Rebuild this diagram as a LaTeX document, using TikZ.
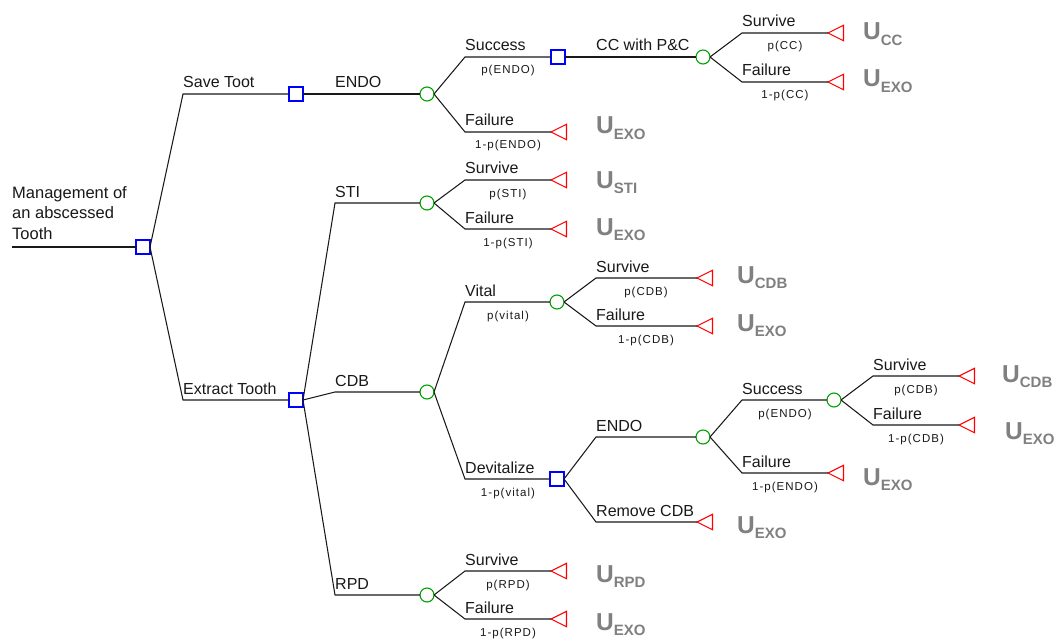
\documentclass[tikz,border=0pt]{standalone}
\usepackage{fontspec}
\setmainfont{Liberation Sans}
\newfontfamily\probfont[LetterSpace=9]{Liberation Sans}
\usetikzlibrary{shapes.geometric}
\definecolor{dnode}{RGB}{0,0,255}
\definecolor{cnode}{RGB}{0,160,0}
\definecolor{tnode}{RGB}{255,0,0}
\definecolor{ugray}{RGB}{128,128,128}
\definecolor{linec}{RGB}{25,25,25}
\tikzset{
  decn/.style={draw=dnode, line width=1.2pt, rectangle, minimum size=14pt, inner sep=0pt, outer sep=0pt},
  chn/.style={draw=cnode, line width=1.1pt, circle, minimum size=14pt, inner sep=0pt, outer sep=0pt},
  termn/.style={draw=tnode, line width=1.1pt, isosceles triangle, isosceles triangle stretches,
    shape border rotate=180, minimum width=15.5pt, minimum height=15.5pt, inner sep=0pt, outer sep=0pt, anchor=apex},
  br/.style={draw=linec, line width=1.05pt},
  lab/.style={anchor=base west, inner sep=0pt, text=linec, font=\fontsize{16}{19}\selectfont},
  prob/.style={anchor=base, inner sep=0pt, text=linec, font=\probfont\fontsize{11.5}{13}\selectfont},
  util/.style={anchor=base west, inner sep=0pt, text=ugray, font=\bfseries\fontsize{24.5}{25}\selectfont},
}
\newcommand{\Uval}[1]{U{\fontsize{15}{16}\selectfont\raisebox{-5.5pt}{#1}}}
% \brto{from}{corner x}{corner y}{to}
\newcommand{\brto}[4]{\coordinate (k#4) at (#2,#3); \draw[br] (#1.east) -- (k#4) -- (#4);}
\begin{document}
\begin{tikzpicture}[x=1pt,y=-1pt]
\useasboundingbox (0,0) rectangle (1059,639);
\fill[white] (0,0) rectangle (1059,639);

% root
\node[anchor=north west, align=left, inner sep=0pt, text=linec, font=\fontsize{16.5}{20.5}\selectfont] (title) at (12,186) {Management of\\an abscessed\\Tooth};
\coordinate (start) at (12,247);
\node[decn] (R) at (143,247) {};
\draw[br] (start) -- (R);

% level 1
\node[decn] (S1) at (296,94) {};
\node[decn] (S2) at (296,400) {};
\brto{R}{183}{94}{S1}
\brto{R}{183}{400}{S2}
\node[lab] (lSave) at (183,88) {Save Toot};
\node[lab] (lExt) at (183,394) {Extract Tooth};

% ENDO branch
\node[chn] (C1) at (427,94) {};
\draw[br] (S1) -- (C1);
\node[lab] (lEndo1) at (335,88) {ENDO};
\node[decn] (S3) at (558,57) {};
\brto{C1}{465}{57}{S3}
\node[lab] (lSucc1) at (465,51) {Success};
\node[prob] (pSucc1) at (508,74) {p(ENDO)};
\node[chn] (C2) at (703,57) {};
\draw[br] (S3) -- (C2);
\node[lab] (lCC) at (596,51) {CC with P\&C};
\node[termn] (T1) at (828,33) {};
\brto{C2}{742}{33}{T1}
\node[lab] (lT1) at (742,27) {Survive};
\node[prob] (pT1) at (785,50) {p(CC)};
\node[termn] (T2) at (828,82) {};
\brto{C2}{742}{82}{T2}
\node[lab] (lT2) at (742,76) {Failure};
\node[prob] (pT2) at (785,99) {1-p(CC)};
\node[termn] (T3) at (551,132) {};
\brto{C1}{465}{132}{T3}
\node[lab] (lT3) at (465,126) {Failure};
\node[prob] (pT3) at (508,149) {1-p(ENDO)};

% STI branch
\node[chn] (C3) at (427,203) {};
\brto{S2}{335}{203}{C3}
\node[lab] (lSTI) at (335,197) {STI};
\node[termn] (T4) at (551,180) {};
\brto{C3}{465}{180}{T4}
\node[lab] (lT4) at (465,174) {Survive};
\node[prob] (pT4) at (508,197) {p(STI)};
\node[termn] (T5) at (551,229) {};
\brto{C3}{465}{229}{T5}
\node[lab] (lT5) at (465,223) {Failure};
\node[prob] (pT5) at (508,246) {1-p(STI)};

% CDB branch
\node[chn] (C4) at (427,392) {};
\brto{S2}{335}{392}{C4}
\node[lab] (lCDB) at (335,386) {CDB};
\node[chn] (C5) at (557,302) {};
\brto{C4}{465}{302}{C5}
\node[lab] (lVital) at (465,296) {Vital};
\node[prob] (pVital) at (508,319) {p(vital)};
\node[termn] (T6) at (697,278) {};
\brto{C5}{596}{278}{T6}
\node[lab] (lT6) at (596,272) {Survive};
\node[prob] (pT6) at (646,295) {p(CDB)};
\node[termn] (T7) at (697,326) {};
\brto{C5}{596}{326}{T7}
\node[lab] (lT7) at (596,320) {Failure};
\node[prob] (pT7) at (646,343) {1-p(CDB)};

\node[decn] (S4) at (557,479) {};
\brto{C4}{465}{479}{S4}
\node[lab] (lDev) at (465,473) {Devitalize};
\node[prob] (pDev) at (508,496) {1-p(vital)};
\node[chn] (C6) at (703,437) {};
\brto{S4}{596}{437}{C6}
\node[lab] (lEndo2) at (596,431) {ENDO};
\node[chn] (C7) at (834,400) {};
\brto{C6}{742}{400}{C7}
\node[lab] (lSucc2) at (742,394) {Success};
\node[prob] (pSucc2) at (785,417) {p(ENDO)};
\node[termn] (T8) at (959,376) {};
\brto{C7}{873}{376}{T8}
\node[lab] (lT8) at (873,370) {Survive};
\node[prob] (pT8) at (916,393) {p(CDB)};
\node[termn] (T9) at (959,425) {};
\brto{C7}{873}{425}{T9}
\node[lab] (lT9) at (873,419) {Failure};
\node[prob] (pT9) at (916,442) {1-p(CDB)};
\node[termn] (T10) at (828,473) {};
\brto{C6}{742}{473}{T10}
\node[lab] (lT10) at (742,467) {Failure};
\node[prob] (pT10) at (785,490) {1-p(ENDO)};
\node[termn] (T11) at (697,522) {};
\brto{S4}{596}{522}{T11}
\node[lab] (lT11) at (596,516) {Remove CDB};

% RPD branch
\node[chn] (C8) at (427,595) {};
\brto{S2}{335}{595}{C8}
\node[lab] (lRPD) at (335,589) {RPD};
\node[termn] (T12) at (551,571) {};
\brto{C8}{465}{571}{T12}
\node[lab] (lT12) at (465,565) {Survive};
\node[prob] (pT12) at (508,588) {p(RPD)};
\node[termn] (T13) at (551,619) {};
\brto{C8}{465}{619}{T13}
\node[lab] (lT13) at (465,613) {Failure};
\node[prob] (pT13) at (508,636) {1-p(RPD)};

% utilities
\node[util] (u1) at (863,40) {\Uval{CC}};
\node[util] (u2) at (863,87) {\Uval{EXO}};
\node[util] (u3) at (596,134) {\Uval{EXO}};
\node[util] (u4) at (596,188) {\Uval{STI}};
\node[util] (u5) at (596,235) {\Uval{EXO}};
\node[util] (u6) at (737,283) {\Uval{CDB}};
\node[util] (u7) at (737,331) {\Uval{EXO}};
\node[util] (u8) at (1002,382) {\Uval{CDB}};
\node[util] (u9) at (1005,439) {\Uval{EXO}};
\node[util] (u10) at (863,485) {\Uval{EXO}};
\node[util] (u11) at (737,533) {\Uval{EXO}};
\node[util] (u12) at (596,582) {\Uval{RPD}};
\node[util] (u13) at (596,630) {\Uval{EXO}};
\end{tikzpicture}
\end{document}
